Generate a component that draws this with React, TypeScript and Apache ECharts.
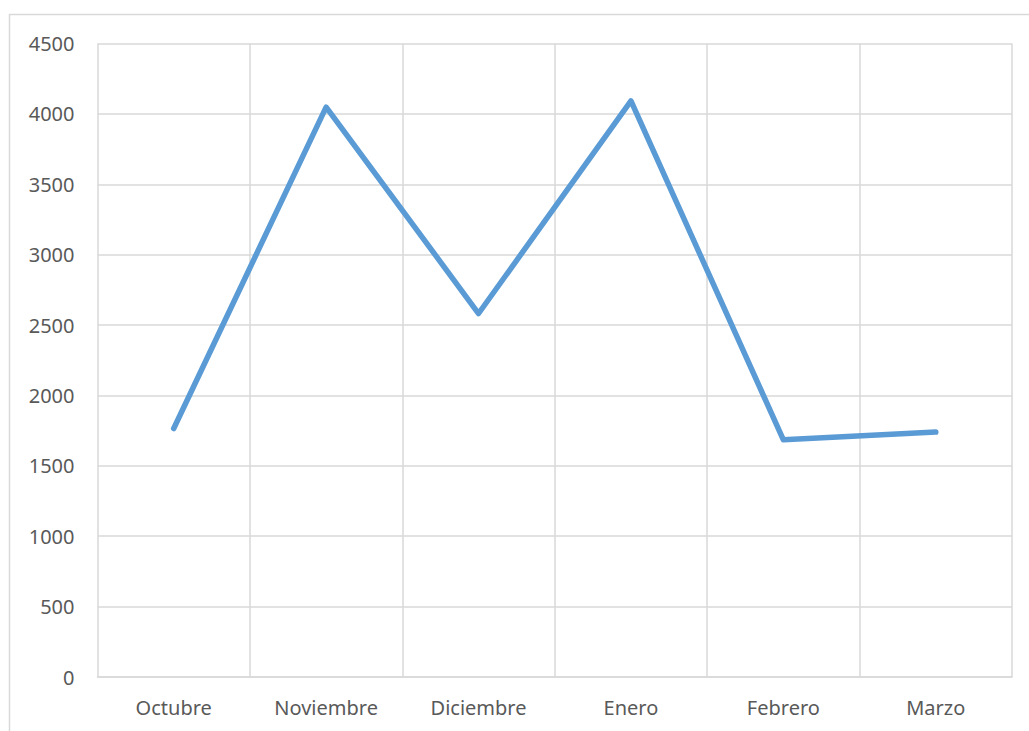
import React, { useEffect, useRef } from "react";
import * as echarts from "echarts";

const months = ["Octubre", "Noviembre", "Diciembre", "Enero", "Febrero", "Marzo"];
const values = [1765, 4048, 2582, 4092, 1685, 1740];
const yMin = 0;
const yMax = 4500;
const yStep = 500;

const GRID = "#d9d9d9";
const TEXT = "#595959";
const LINE = "#5b9bd5";
const FONT = "'Noto Sans', 'Open Sans', sans-serif";

export default function App() {
  const ref = useRef<HTMLDivElement>(null);

  useEffect(() => {
    document.body.style.margin = "0";
    if (!ref.current) return;
    const chart = echarts.init(ref.current, null, { renderer: "svg" });
    chart.setOption({
      animation: false,
      backgroundColor: "#ffffff",
      textStyle: { fontFamily: FONT },
      graphic: [
        {
          type: "rect",
          shape: { x: 9.5, y: 14.5, width: 1100, height: 800 },
          style: { fill: "none", stroke: GRID, lineWidth: 1.5 },
          silent: true,
        },
      ],
      grid: { left: 97.5, right: 17, top: 43.5, bottom: 54, containLabel: false },
      xAxis: {
        type: "category",
        data: months,
        boundaryGap: true,
        axisLine: { show: true, lineStyle: { color: GRID, width: 1.5 } },
        axisTick: { show: false },
        splitLine: { show: true, lineStyle: { color: GRID, width: 1.5 } },
        axisLabel: { color: TEXT, fontSize: 20, fontFamily: FONT, margin: 20, interval: 0 },
      },
      yAxis: {
        type: "value",
        min: yMin,
        max: yMax,
        interval: yStep,
        axisLine: { show: false },
        axisTick: { show: false },
        splitLine: { show: true, lineStyle: { color: GRID, width: 1.5 } },
        axisLabel: {
          color: TEXT,
          fontSize: 20,
          fontFamily: FONT,
          margin: 23,
          formatter: (v: number) => String(v),
        },
      },
      series: [
        {
          type: "line",
          data: values,
          symbol: "none",
          lineStyle: { color: LINE, width: 5.5, cap: "round", join: "round" },
        },
      ],
    });
    return () => chart.dispose();
  }, []);

  return <div ref={ref} style={{ width: 1029, height: 731 }} />;
}
